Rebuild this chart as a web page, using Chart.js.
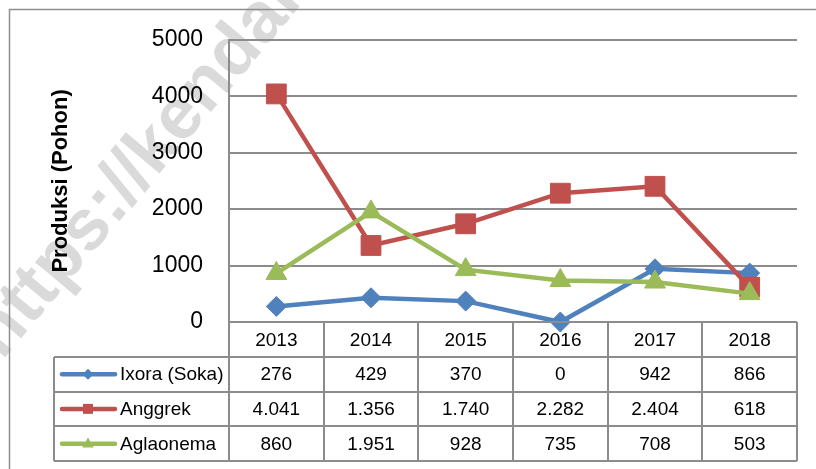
<!DOCTYPE html>
<html>
<head>
<meta charset="utf-8">
<script src="https://cdn.jsdelivr.net/npm/chart.js@4.4.0/dist/chart.umd.min.js"></script>
<style>
  html, body { margin: 0; padding: 0; background: #fff; }
  #wrap { width: 816px; height: 469px; position: relative; }
</style>
</head>
<body>
<div id="wrap"><canvas id="c" width="816" height="469"></canvas></div>
<script>
const years = ['2013', '2014', '2015', '2016', '2017', '2018'];
const seriesNames = ['Ixora (Soka)', 'Anggrek', 'Aglaonema'];
const ixora = [276, 429, 370, 0, 942, 866];
const anggrek = [4041, 1356, 1740, 2282, 2404, 618];
const aglaonema = [860, 1951, 928, 735, 708, 503];
const yTicks = [0, 1000, 2000, 3000, 4000, 5000];
const yTitle = 'Produksi (Pohon)';
const watermark = 'https://kendalkab.go.id';

const colors = ['#4F81BD', '#C0504D', '#9BBB59'];
const styles = ['rectRot', 'rect', 'triangle'];
const radii = [10, 14, 12];
const allValues = [ixora, anggrek, aglaonema];

function fmt(v) {
  return String(v).replace(/\B(?=(\d{3})+(?!\d))/g, '.');
}

const FONT = '"Liberation Sans", Arial, sans-serif';
const GRID = '#8c8c8c';

function drawMarker(ctx, style, x, y, s, color) {
  ctx.fillStyle = color;
  ctx.beginPath();
  if (style === 'rectRot') {
    ctx.moveTo(x, y - s); ctx.lineTo(x + s, y); ctx.lineTo(x, y + s); ctx.lineTo(x - s, y);
  } else if (style === 'rect') {
    ctx.rect(x - s, y - s, 2 * s, 2 * s);
  } else {
    ctx.moveTo(x, y - s * 1.1); ctx.lineTo(x + s * 1.05, y + s * 0.7); ctx.lineTo(x - s * 1.05, y + s * 0.7);
  }
  ctx.closePath();
  ctx.fill();
}

const bgPlugin = {
  id: 'bg',
  beforeDraw(chart) {
    const ctx = chart.ctx;
    ctx.save();
    ctx.fillStyle = '#fff';
    ctx.fillRect(0, 0, chart.width, chart.height);
    // watermark
    ctx.translate(2, 361);
    ctx.rotate(-50 * Math.PI / 180);
    ctx.fillStyle = '#dadada';
    ctx.font = 'bold 72px ' + FONT;
    ctx.textBaseline = 'alphabetic';
    ctx.textAlign = 'left';
    ctx.fillText(watermark, 0, 0);
    ctx.restore();
  }
};

const tablePlugin = {
  id: 'table',
  afterDraw(chart) {
    const ctx = chart.ctx;
    const xs = chart.scales.x;
    const area = chart.chartArea;
    const n = years.length;
    const colW = (area.right - area.left) / n;
    const top = area.bottom;
    const rowH = 34.75;
    const tableLeft = 54;
    const bottom = top + rowH * 4;

    ctx.save();
    // outer frame of whole picture
    ctx.strokeStyle = '#8e8e8e';
    ctx.lineWidth = 1.5;
    ctx.beginPath();
    ctx.moveTo(9.5, chart.height + 2);
    ctx.lineTo(9.5, 9.5);
    ctx.lineTo(chart.width + 2, 9.5);
    ctx.stroke();

    ctx.strokeStyle = GRID;
    ctx.lineWidth = 2;
    ctx.beginPath();
    ctx.moveTo(area.left, top); ctx.lineTo(area.right, top);
    for (let r = 1; r <= 4; r++) {
      const y = Math.round(top + rowH * r);
      ctx.moveTo(tableLeft, y); ctx.lineTo(area.right, y);
    }
    ctx.moveTo(tableLeft, Math.round(top + rowH)); ctx.lineTo(tableLeft, Math.round(bottom));
    for (let i = 0; i <= n; i++) {
      const x = Math.round(area.left + colW * i);
      ctx.moveTo(x, top); ctx.lineTo(x, Math.round(bottom));
    }
    ctx.stroke();

    ctx.fillStyle = '#000';
    ctx.font = '19px ' + FONT;
    ctx.textAlign = 'center';
    ctx.textBaseline = 'middle';
    years.forEach((yr, i) => {
      ctx.fillText(yr, xs.getPixelForValue(i), top + rowH / 2 + 1);
    });
    allValues.forEach((vals, s) => {
      const cy = top + rowH * (s + 1) + rowH / 2 + 1;
      ctx.fillStyle = '#000';
      ctx.textAlign = 'center';
      vals.forEach((v, i) => {
        ctx.fillText(fmt(v), xs.getPixelForValue(i), cy);
      });
      ctx.strokeStyle = colors[s];
      ctx.lineWidth = 4.5;
      ctx.lineCap = 'round';
      ctx.beginPath();
      ctx.moveTo(62, cy - 1); ctx.lineTo(115, cy - 1);
      ctx.stroke();
      drawMarker(ctx, styles[s], 88, cy - 1, s === 1 ? 5 : 5.5, colors[s]);
      ctx.fillStyle = '#000';
      ctx.textAlign = 'left';
      ctx.fillText(seriesNames[s], 120, cy);
    });
    ctx.restore();
  }
};

new Chart(document.getElementById('c'), {
  type: 'line',
  data: {
    labels: years,
    datasets: allValues.map((vals, s) => ({
      label: seriesNames[s],
      data: vals,
      borderColor: colors[s],
      backgroundColor: colors[s],
      borderWidth: 4.5,
      pointStyle: styles[s],
      pointRadius: radii[s],
      pointHoverRadius: radii[s],
      pointBackgroundColor: colors[s],
      pointBorderColor: colors[s],
      pointBorderWidth: 1,
      tension: 0,
      clip: false,
      order: 2 - s
    }))
  },
  options: {
    responsive: false,
    animation: false,
    devicePixelRatio: 1,
    layout: { padding: { top: 38, right: 19, bottom: 0, left: 0 } },
    plugins: { legend: { display: false }, tooltip: { enabled: false }, title: { display: false } },
    scales: {
      x: {
        type: 'category',
        offset: true,
        grid: { display: false, drawTicks: false },
        border: { display: false },
        ticks: { display: false },
        afterFit(scale) { scale.height = 147; }
      },
      y: {
        min: 0,
        max: 5000,
        afterBuildTicks(scale) { scale.ticks = yTicks.map(v => ({ value: v })); },
        ticks: {
          color: '#000',
          font: { family: FONT, size: 23 },
          padding: 26,
          callback: (v) => String(v)
        },
        grid: { color: GRID, lineWidth: 2, drawTicks: false },
        border: { display: true, color: GRID, width: 2 },
        title: {
          display: true,
          text: yTitle,
          color: '#000',
          font: { family: FONT, size: 22, weight: 'bold' },
          padding: { top: 48, bottom: 0 }
        },
        afterFit(scale) { scale.width = 229; }
      }
    }
  },
  plugins: [bgPlugin, tablePlugin]
});
</script>
</body>
</html>
